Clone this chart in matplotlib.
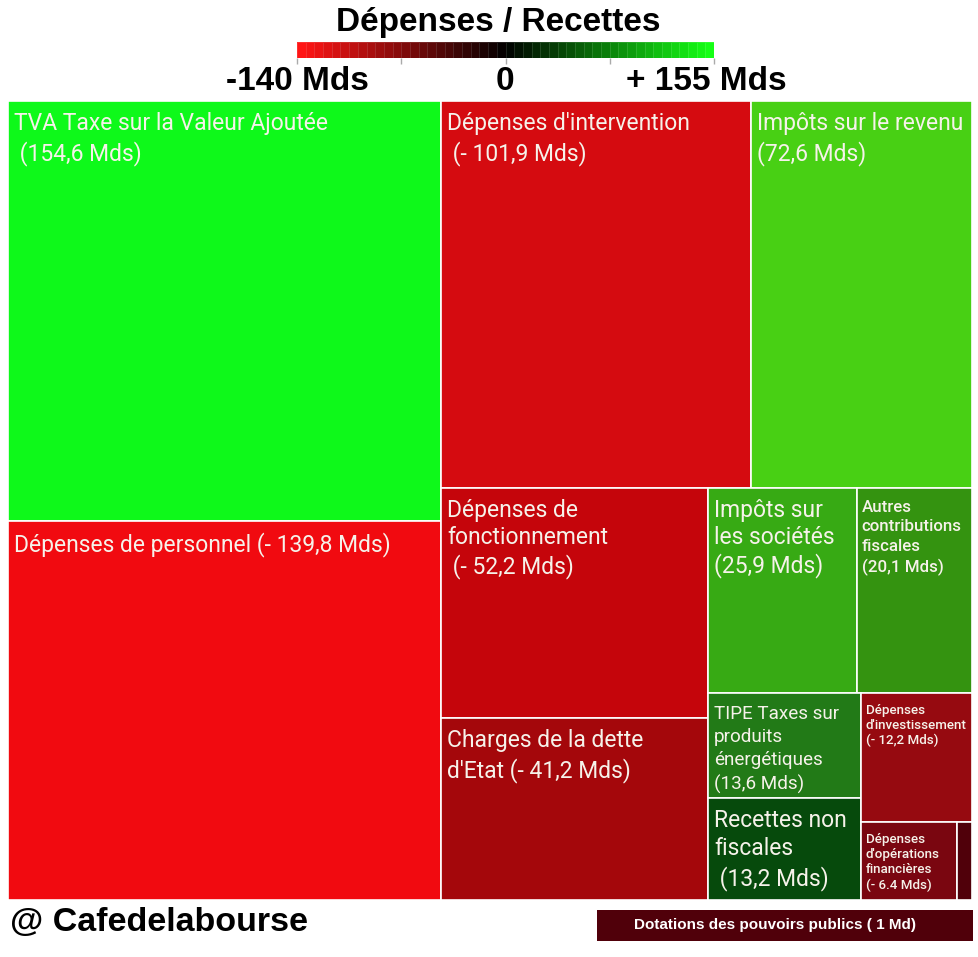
import numpy as np
import matplotlib
matplotlib.use("Agg")
import matplotlib.pyplot as plt
from matplotlib.patches import Rectangle
from matplotlib.colors import LinearSegmentedColormap

# Budget items (Mds), already sorted by size
labels = [
    "TVA Taxe sur la Valeur Ajoutée\n (154,6 Mds)",
    "Dépenses de personnel (- 139,8 Mds)",
    "Dépenses d'intervention\n (- 101,9 Mds)",
    "Impôts sur le revenu\n(72,6 Mds)",
    "Dépenses de\nfonctionnement\n (- 52,2 Mds)",
    "Charges de la dette\nd'Etat (- 41,2 Mds)",
    "Impôts sur\nles sociétés\n(25,9 Mds)",
    "Autres\ncontributions\nfiscales\n(20,1 Mds)",
    "TIPE Taxes sur\nproduits\nénergétiques\n(13,6 Mds)",
    "Recettes non\nfiscales\n (13,2 Mds)",
    "Dépenses\nd'investissement\n(- 12,2 Mds)",
    "Dépenses\nd'opérations\nfinancières\n(- 6.4 Mds)",
    "",
]
values = [154.6, -139.8, -101.9, 72.6, -52.2, -41.2, 25.9, 20.1, 13.6, 13.2, -12.2, -6.4, -1.0]
colors = ["#0ef91a", "#f10a10", "#d50b10", "#48d014", "#c5050b", "#a4070b", "#37aa14",
          "#349310", "#227a17", "#064a0c", "#960a10", "#7a0610", "#50000a"]
font_sizes = [16.5, 16.5, 16.5, 16.5, 16.5, 16.5, 16.5, 12.2, 13.6, 16.5, 9.6, 9.6, 8]
line_sp = [1.33, 1.33, 1.33, 1.33, 1.25, 1.3, 1.22, 1.36, 1.37, 1.29, 1.19, 1.23, 1.2]
weights = ["normal"] * 7 + ["medium", "normal", "normal", "medium", "medium", "normal"]

scale_labels = ["-140 Mds", "0", "+ 155 Mds"]


# squarified treemap layout
def layout_col(sizes, x, y, dx, dy):
    w = sum(sizes) / dy
    out = []
    for s in sizes:
        out.append((x, y, w, s / w))
        y += s / w
    return out


def layout_row(sizes, x, y, dx, dy):
    h = sum(sizes) / dx
    out = []
    for s in sizes:
        out.append((x, y, s / h, h))
        x += s / h
    return out


def layout(sizes, x, y, dx, dy):
    return layout_col(sizes, x, y, dx, dy) if dx >= dy else layout_row(sizes, x, y, dx, dy)


def leftover(sizes, x, y, dx, dy):
    if dx >= dy:
        w = sum(sizes) / dy
        return x + w, y, dx - w, dy
    h = sum(sizes) / dx
    return x, y + h, dx, dy - h


def worst(sizes, x, y, dx, dy):
    return max(max(r[2] / r[3], r[3] / r[2]) for r in layout(sizes, x, y, dx, dy))


def squarify(sizes, x, y, dx, dy):
    if not sizes:
        return []
    if len(sizes) == 1:
        return layout(sizes, x, y, dx, dy)
    i = 1
    while i < len(sizes) and worst(sizes[:i], x, y, dx, dy) >= worst(sizes[:i + 1], x, y, dx, dy):
        i += 1
    lx, ly, ldx, ldy = leftover(sizes[:i], x, y, dx, dy)
    return layout(sizes[:i], x, y, dx, dy) + squarify(sizes[i:], lx, ly, ldx, ldy)


W, H = 979, 957
fig = plt.figure(figsize=(W / 100, H / 100), dpi=100)
fig.patch.set_facecolor("white")

# treemap area in pixels
tx0, ty0, tw, th = 8, 101, 964, 799
ax = fig.add_axes([tx0 / W, 1 - (ty0 + th) / H, tw / W, th / H])
ax.set_xlim(0, tw)
ax.set_ylim(th, 0)
ax.axis("off")

areas = [abs(v) for v in values]
total = sum(areas)
norm = [a * tw * th / total for a in areas]
rects = squarify(norm, 0, 0, tw, th)

for (x, y, w, h), lab, c, fs, ls, fw in zip(rects, labels, colors, font_sizes, line_sp, weights):
    ax.add_patch(Rectangle((x, y), w, h, facecolor=c, edgecolor="white", lw=1.2))
    if lab:
        pad = 6 if fs >= 13 else 5
        top = 11 if fs >= 16 else (12 if fs >= 12 else 11)
        ax.text(x + pad, y + top, lab, color="#f6f2ea", fontsize=fs,
                family="Roboto", fontweight=fw, va="top", ha="left", linespacing=ls)

# title and colour scale
fig.text(498 / W, 1 - 22 / H, "Dépenses / Recettes", ha="center", va="center",
         fontsize=24, fontweight="bold", family="Liberation Sans")

cmap = LinearSegmentedColormap.from_list("rg", ["#ff1515", "#000000", "#15ff15"])
cax = fig.add_axes([297 / W, 1 - 58 / H, 417 / W, 16 / H])
nseg = 48
cax.pcolormesh(np.arange(nseg + 1), [0, 1], np.linspace(0, 1, nseg)[None, :], cmap=cmap,
               edgecolors=(1, 1, 1, 0.12), linewidth=0.6)
cax.set_xlim(0, nseg)
cax.set_ylim(0, 1)
for s in cax.spines.values():
    s.set_visible(False)
cax.set_yticks([])
cax.set_xticks(np.linspace(0, nseg, 5))
cax.set_xticklabels([])
cax.tick_params(axis="x", length=4, color="#aaaaaa", width=1)

for xp, lab in zip([297, 505, 706], scale_labels):
    fig.text(xp / W, 1 - 82 / H, lab, ha="center", va="center", fontsize=24,
             fontweight="bold", family="Liberation Sans")

# footer
fig.text(10 / W, 1 - 922 / H, "@ Cafedelabourse", ha="left", va="center", fontsize=24.5,
         fontweight="bold", family="Liberation Sans")
fig.patches.append(Rectangle((597 / W, 1 - 941 / H), 376 / W, 31 / H, transform=fig.transFigure,
                             facecolor=colors[-1], edgecolor="none"))
fig.text(775 / W, 1 - 925 / H, "Dotations des pouvoirs publics ( 1 Md)", ha="center", va="center",
         fontsize=11, fontweight="bold", color="white", family="Liberation Sans")

fig.savefig("out.png", dpi=100)
